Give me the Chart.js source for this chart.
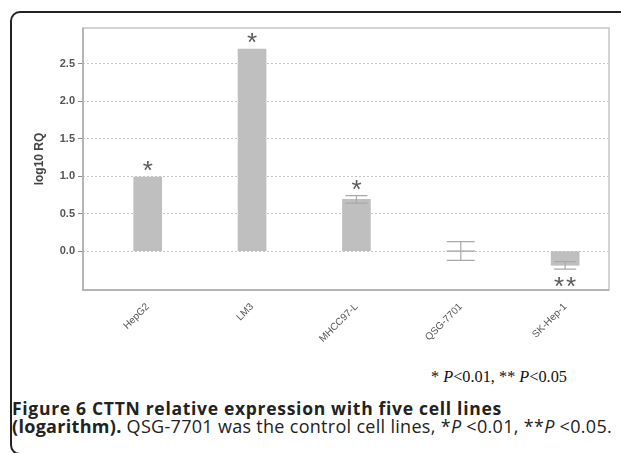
<!DOCTYPE html>
<html>
<head>
<meta charset="utf-8">
<script src="https://cdn.jsdelivr.net/npm/chart.js@4/dist/chart.umd.min.js"></script>
<style>
  body { margin: 0; background: #fff; width: 621px; height: 453px; overflow: hidden; position: relative; }
  #frame {
    position: absolute; left: 10px; top: 11px; width: 640px; height: 440px;
    border: 2px solid #222; border-top-left-radius: 10px; border-bottom-left-radius: 10px;
  }
  #chart-wrap { position: absolute; left: 0; top: 0; width: 621px; height: 360px; }
  #pnote {
    position: absolute; left: 431px; top: 369px; line-height: 16px;
    font-family: "Liberation Serif", "Times New Roman", serif; font-size: 16.3px; color: #111;
  }
  #caption {
    position: absolute; left: 12px; top: 399px; width: 620px;
    font-family: "Open Sans", sans-serif; color: #222; white-space: nowrap;
  }
  #caption .l1 { font-size: 17.5px; font-weight: bold; line-height: 18px; letter-spacing: 0.7px; }
  #caption .l2 { font-size: 18px; line-height: 18px; letter-spacing: 0.3px; }
  #caption b { font-weight: bold; }
</style>
</head>
<body>
<div id="frame"></div>
<div id="chart-wrap"><canvas id="cttn-chart" width="621" height="360"></canvas></div>
<div id="pnote">* <i>P</i>&lt;0.01, ** <i>P</i>&lt;0.05</div>
<div id="caption">
  <div class="l1">Figure 6 CTTN relative expression with five cell lines</div>
  <div class="l2"><b>(logarithm).</b> QSG-7701 was the control cell lines, *<i>P</i> &lt;0.01, **<i>P</i> &lt;0.05.</div>
</div>
<script>
// cell lines and log10 RQ values
const cellLines = ['HepG2', 'LM3', 'MHCC97-L', 'QSG-7701', 'SK-Hep-1'];
const log10RQ = [0.99, 2.70, 0.69, 0.0, -0.19];
const errors = [0, 0, 0.05, 0.125, 0.05];
const sigMarks = ['*', '*', '*', '', '**'];
const yTicks = [0, 0.5, 1.0, 1.5, 2.0, 2.5];

// error bars drawn through the scales
const errorBarPlugin = {
    id: 'errorBars',
    afterDatasetsDraw(chart) {
        const ctx = chart.ctx;
        const xs = chart.scales.x;
        const ys = chart.scales.y;
        ctx.save();
        ctx.strokeStyle = '#a9a9a9';
        ctx.lineWidth = 1.2;
        log10RQ.forEach((v, i) => {
            const e = errors[i];
            if (!e) return;
            const x = xs.getPixelForValue(i);
            const top = ys.getPixelForValue(v + e);
            const bot = ys.getPixelForValue(v - e);
            const half = v === 0 ? 14 : 11;
            ctx.beginPath();
            ctx.moveTo(x, top); ctx.lineTo(x, bot);
            ctx.moveTo(x - half, top); ctx.lineTo(x + half, top);
            ctx.moveTo(x - half, bot); ctx.lineTo(x + half, bot);
            if (v === 0) {
                ctx.moveTo(x - half, ys.getPixelForValue(0)); ctx.lineTo(x + half, ys.getPixelForValue(0));
            }
            ctx.stroke();
        });

        // significance asterisks
        ctx.fillStyle = '#5a5a5a';
        ctx.font = '26px "Liberation Sans", Arial, sans-serif';
        ctx.textAlign = 'center';
        ctx.textBaseline = 'alphabetic';
        sigMarks.forEach((m, i) => {
            if (!m) return;
            const v = log10RQ[i];
            const e = errors[i];
            const x = xs.getPixelForValue(i);
            const y = v >= 0 ? ys.getPixelForValue(v + e) + 2 : ys.getPixelForValue(v - e) + 26;
            const chars = m.split('');
            chars.forEach((c, k) => {
                ctx.fillText(c, x + (k - (chars.length - 1) / 2) * 12, y);
            });
        });
        ctx.restore();
    }
};

// plot frame around the chart area
const plotFramePlugin = {
    id: 'plotFrame',
    beforeDatasetsDraw(chart) {
        const { ctx, chartArea: a } = chart;
        ctx.save();
        ctx.strokeStyle = '#d4d4d4';
        ctx.lineWidth = 2;
        ctx.strokeRect(a.left, a.top, a.right - a.left, a.bottom - a.top);
        ctx.strokeStyle = '#b4b4b4';
        ctx.beginPath();
        ctx.moveTo(a.left, a.top); ctx.lineTo(a.left, a.bottom); ctx.lineTo(a.right, a.bottom);
        ctx.stroke();
        ctx.restore();
    }
};

new Chart(document.getElementById('cttn-chart'), {
    type: 'bar',
    data: {
        datasets: [{
            data: log10RQ.map((v, i) => ({ x: i, y: v })),
            backgroundColor: '#bfbfbf',
            borderWidth: 0,
            barThickness: 28
        }]
    },
    options: {
        responsive: false,
        animation: false,
        layout: { padding: { left: 20, right: 12, top: 28, bottom: 10 } },
        plugins: { legend: { display: false }, tooltip: { enabled: false } },
        scales: {
            x: {
                type: 'linear',
                offset: false,
                min: -0.62,
                max: 4.42,
                afterBuildTicks(scale) {
                    scale.ticks = cellLines.map((c, i) => ({ value: i }));
                },
                afterFit(scale) { scale.height = 60; },
                grid: { display: false },
                border: { display: false },
                ticks: {
                    minRotation: 45,
                    maxRotation: 45,
                    padding: 3,
                    color: '#555',
                    font: { family: '"Liberation Sans", Arial, sans-serif', size: 10 },
                    callback: (v) => cellLines[v]
                }
            },
            y: {
                min: -0.52,
                max: 2.98,
                afterBuildTicks(scale) {
                    scale.ticks = yTicks.map(v => ({ value: v }));
                },
                afterFit(scale) { scale.width = 63; },
                grid: {
                    color: '#c4c4c4',
                    lineWidth: 1,
                    tickLength: 5,
                    tickColor: '#888',
                    tickBorderDash: []
                },
                border: { display: false, dash: [2, 2] },
                title: {
                    display: true,
                    text: 'log10 RQ',
                    color: '#444',
                    padding: { top: 12, bottom: 0 },
                    font: { family: '"Liberation Sans", Arial, sans-serif', size: 12, weight: 'bold' }
                },
                ticks: {
                    padding: 3,
                    color: '#555',
                    font: { family: '"Liberation Sans", Arial, sans-serif', size: 11, weight: 'bold' },
                    callback: (v) => v.toFixed(1)
                }
            }
        }
    },
    plugins: [plotFramePlugin, errorBarPlugin]
});
</script>
</body>
</html>
